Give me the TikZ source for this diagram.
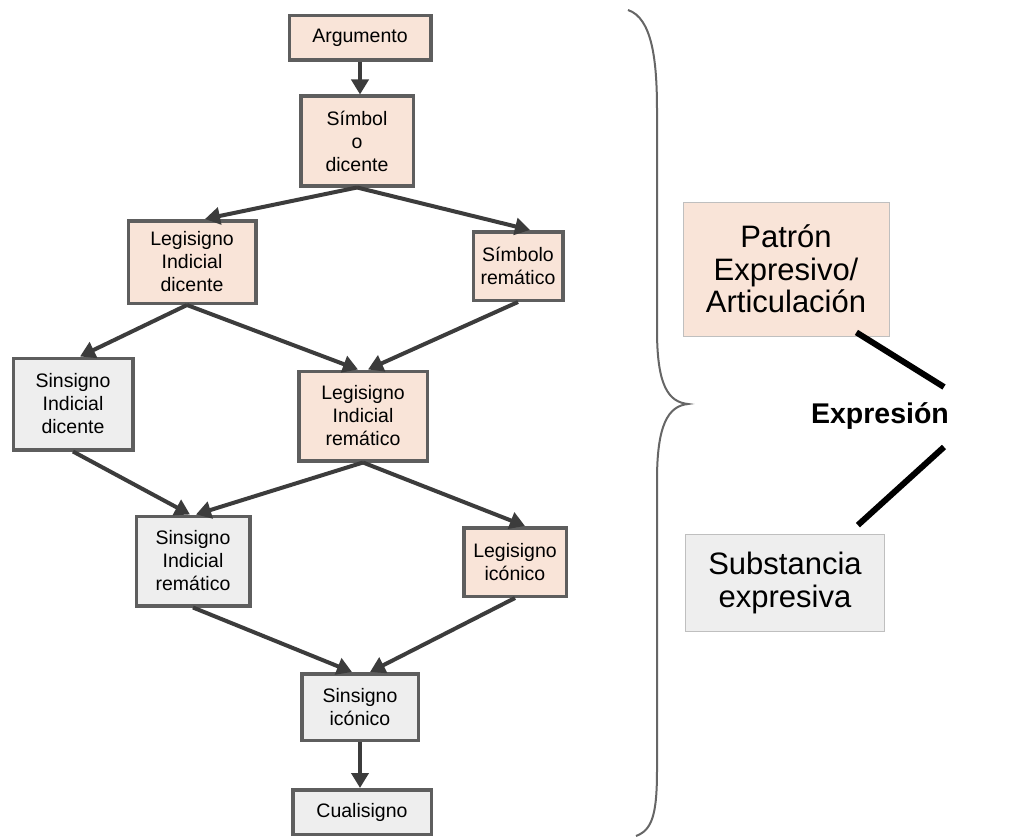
\documentclass[tikz,border=0pt]{standalone}
\usepackage{fontspec}
\setmainfont{Liberation Sans}
\usetikzlibrary{arrows.meta}
\definecolor{peach}{HTML}{F9E4D8}
\definecolor{pale}{HTML}{EEEEEE}
\definecolor{edge}{HTML}{5E5E5E}
\definecolor{arr}{HTML}{3C3C3C}
\begin{document}
\begin{tikzpicture}[x=1pt,y=-1pt,
  box/.style={draw=edge,line width=3.5pt,inner sep=0pt,align=center,
    font=\fontsize{19.5}{23}\selectfont},
  warm/.style={box,fill=peach},
  cold/.style={box,fill=pale},
  bigbox/.style={draw=black!25,line width=0.8pt,inner sep=0pt,align=center,
    font=\fontsize{31}{32.5}\selectfont},
  link/.style={draw=arr,line width=4pt,
    -{Triangle[length=15pt,width=17pt]}},
  bar/.style={draw=black,line width=6pt}]
\useasboundingbox (0,0) rectangle (1023,840);
\fill[white] (0,0) rectangle (1023,840);

% left lattice of sign classes
\node[warm,minimum width=141.5pt,minimum height=44.5pt] (arg) at (360,38) {Argumento};
\node[warm,minimum width=112.5pt,minimum height=89.5pt] (sd) at (357,141) {Símbol\\o\\dicente};
\node[warm,minimum width=127.5pt,minimum height=82.5pt] (lid) at (192,262) {Legisigno\\Indicial\\dicente};
\node[warm,minimum width=89.5pt,minimum height=68.5pt] (sr) at (518,266) {Símbolo\\remático};
\node[cold,minimum width=119.5pt,minimum height=91.5pt] (sid) at (73,404) {Sinsigno\\Indicial\\dicente};
\node[warm,minimum width=128.5pt,minimum height=89.5pt] (lir) at (363,416) {Legisigno\\Indicial\\remático};
\node[cold,minimum width=113.5pt,minimum height=89.5pt] (sir) at (193,561) {Sinsigno\\Indicial\\remático};
\node[warm,minimum width=102.5pt,minimum height=68.5pt] (li) at (515,562) {Legisigno\\icónico};
\node[cold,minimum width=116.5pt,minimum height=66.5pt] (si) at (360,707) {Sinsigno\\icónico};
\node[cold,minimum width=138.5pt,minimum height=44.5pt] (cu) at (362,812) {Cualisigno};

% arrows between classes
\draw[link] (arg.south) -- (arg.south |- sd.north);
\draw[link] (sd.south) -- ([xshift=13pt]lid.north);
\draw[link] (sd.south) -- ([xshift=12pt]sr.north);
\draw[link] ([xshift=-5pt]lid.south) -- ([xshift=7pt]sid.north);
\draw[link] ([xshift=-5pt]lid.south) -- ([xshift=-5pt]lir.north);
\draw[link] (sr.south) -- ([xshift=5pt]lir.north);
\draw[link] (sid.south) -- ([xshift=-3pt]sir.north);
\draw[link] (lir.south) -- ([xshift=3pt]sir.north);
\draw[link] (lir.south) -- ([xshift=10pt]li.north);
\draw[link] (sir.south) -- ([xshift=-8pt]si.north);
\draw[link] (li.south) -- ([xshift=10pt]si.north);
\draw[link] (si.south) -- (si.south |- cu.north);

% curly brace
\draw[draw=black!60,line width=2pt]
  (628,10) .. controls (652,18) and (657,60) .. (657,110)
  -- (657,330) .. controls (657,385) and (668,402) .. (688,404)
  .. controls (668,406) and (657,425) .. (657,480)
  -- (657,770) .. controls (657,815) and (652,830) .. (636,836);

% expression side
\node[bigbox,fill=peach,minimum width=206pt,minimum height=134pt] (pat) at (786,269)
  {Patrón\\Expresivo/\\Articulación};
\node[bigbox,fill=pale,minimum width=199pt,minimum height=97pt] (sub) at (785,583)
  {Substancia\\expresiva};
\node[font=\fontsize{28.5}{30}\selectfont\bfseries] (expr) at (880,416) {Expresión};
\coordinate (eup) at (944,387);
\coordinate (edn) at (944,447);
\draw[bar] ([xshift=-33pt,yshift=4pt]pat.south east) -- (eup);
\draw[bar] (edn) -- ([xshift=-27pt,yshift=9pt]sub.north east);
\end{tikzpicture}
\end{document}
